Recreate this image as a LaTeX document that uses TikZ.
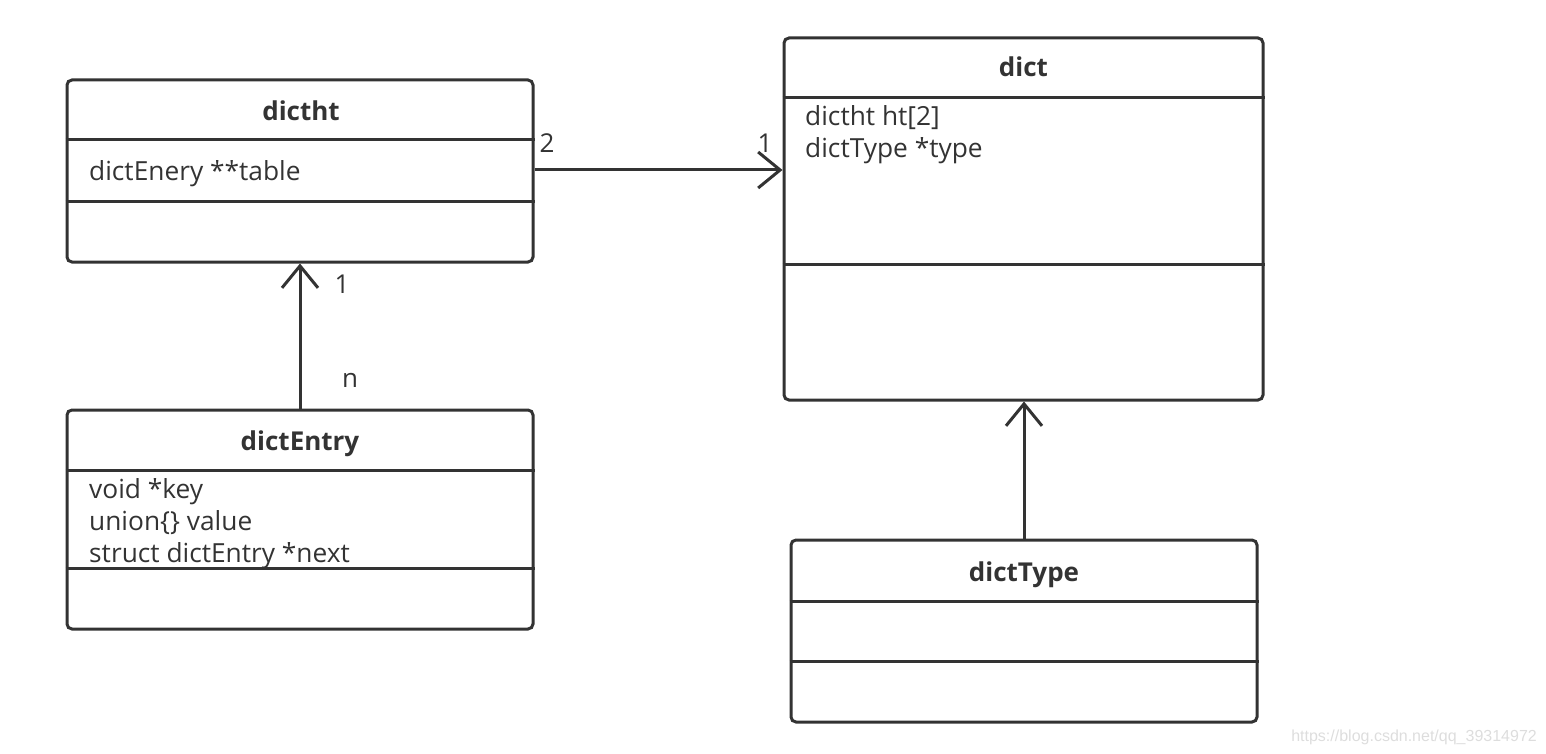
\documentclass[tikz,border=0pt]{standalone}
\usepackage{fontspec}
\setmainfont{Open Sans}
\usetikzlibrary{arrows.meta,calc}
\definecolor{ink}{HTML}{333333}
\definecolor{wm}{HTML}{DDDDDD}
\tikzset{
  umlbox/.style={draw=ink, line width=3pt, rounded corners=5pt, rectangle, inner sep=0pt},
  sepline/.style={draw=ink, line width=3pt},
  hdr/.style={font=\fontsize{26}{30}\selectfont\bfseries, text=ink, inner sep=0pt, anchor=base},
  attr/.style={font=\fontsize{26.3}{30}\selectfont, text=ink, inner sep=0pt, anchor=base west},
  mult/.style={font=\fontsize{26}{30}\selectfont, text=ink, inner sep=0pt, anchor=base},
  assoc/.style={draw=ink, line width=3pt, -{Straight Barb[length=22pt,width=36pt,line width=3pt]}},
}
\begin{document}
\begin{tikzpicture}[x=1pt,y=-1pt]
\useasboundingbox (0,0) rectangle (1546,754);
% boxes
\node[umlbox, minimum width=466pt, minimum height=182pt] (dictht) at (300,171) {};
\node[umlbox, minimum width=466pt, minimum height=219pt] (dictEntry) at (300,519.5) {};
\node[umlbox, minimum width=479pt, minimum height=362pt] (dict) at (1023.5,219) {};
\node[umlbox, minimum width=466pt, minimum height=182pt] (dictType) at (1024,631) {};
% separators
\draw[sepline] (dictht.west |- 0,140) -- (dictht.east |- 0,140);
\draw[sepline] (dictht.west |- 0,201) -- (dictht.east |- 0,201);
\draw[sepline] (dictEntry.west |- 0,470) -- (dictEntry.east |- 0,470);
\draw[sepline] (dictEntry.west |- 0,568) -- (dictEntry.east |- 0,568);
\draw[sepline] (dict.west |- 0,98) -- (dict.east |- 0,98);
\draw[sepline] (dict.west |- 0,264) -- (dict.east |- 0,264);
\draw[sepline] (dictType.west |- 0,601) -- (dictType.east |- 0,601);
\draw[sepline] (dictType.west |- 0,661) -- (dictType.east |- 0,661);
% headers
\node[hdr] (h1) at (301,121) {dictht};
\node[hdr] (h2) at (300,450) {dictEntry};
\node[hdr] (h3) at (1023.5,77) {dict};
\node[hdr] (h4) at (1024,581) {dictType};
% attributes
\node[attr] (a1) at (89,181) {dictEnery **table};
\node[attr] (a2) at (89,498) {void *key};
\node[attr] (a3) at (89,530) {union\{\} value};
\node[attr] (a4) at (89,562) {struct dictEntry *next};
\node[attr] (a5) at (805,126) {dictht ht[2]};
\node[attr] (a6) at (805,158) {dictType *type};
% connectors
\draw[assoc] (dictht.east |- 0,170) -- (dict.west |- 0,170);
\draw[assoc] (dictEntry.north) -- (dictht.south);
\draw[assoc] (dictType.north) -- (dict.south -| dictType.north);
% multiplicities
\node[mult] (m1) at (547,153) {2};
\node[mult] (m2) at (765,153) {1};
\node[mult] (m3) at (342,293) {1};
\node[mult] (m4) at (350,387) {n};
% watermark
\node[font=\fontspec{Liberation Sans}\fontsize{16}{19}\selectfont, text=wm, inner sep=0pt, anchor=base east] (wmark) at (1537,741) {https://blog.csdn.net/qq\_39314972};
\end{tikzpicture}
\end{document}
